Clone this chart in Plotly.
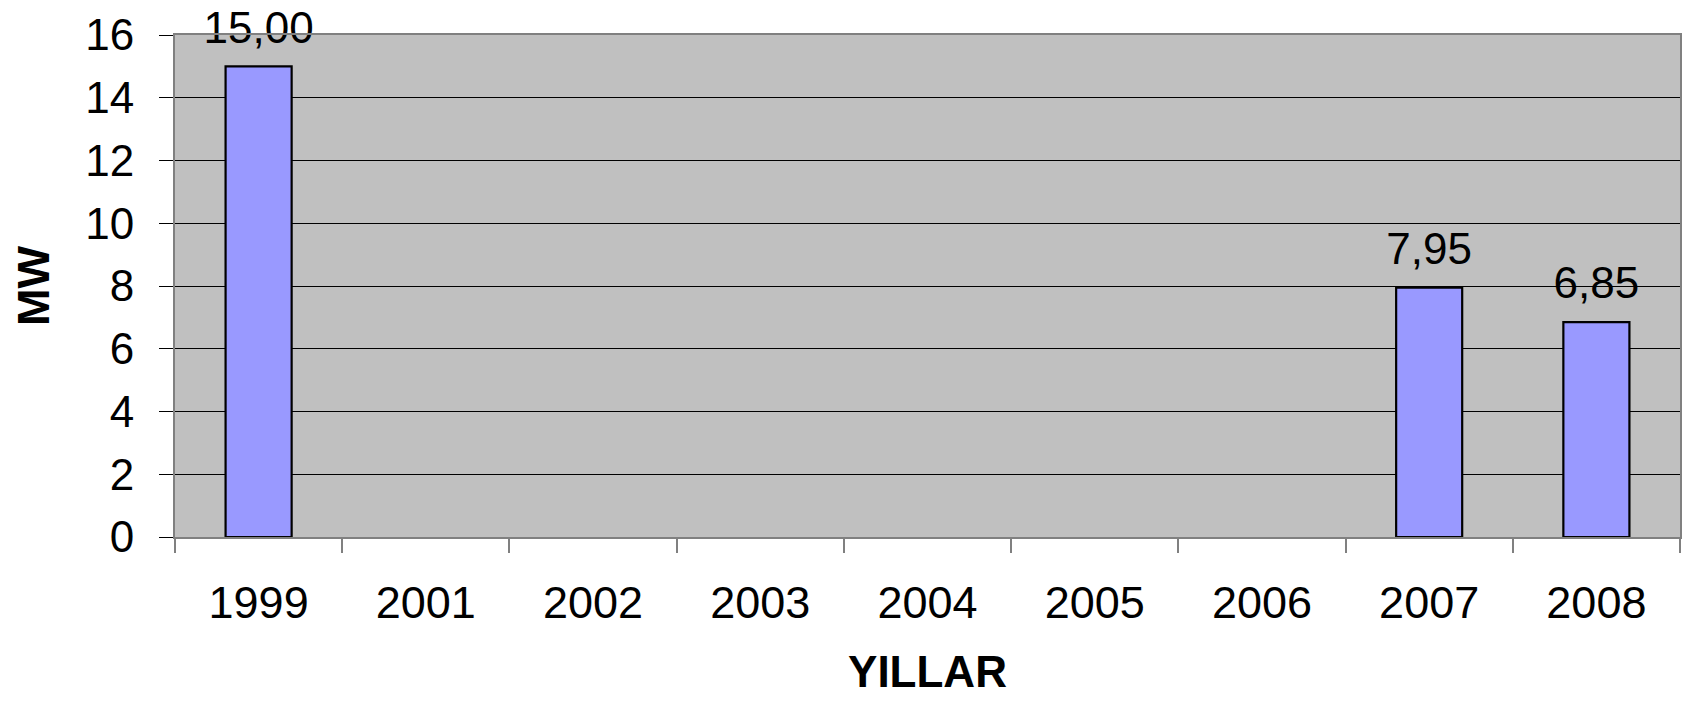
import plotly.graph_objects as go

years = ["1999", "2001", "2002", "2003", "2004", "2005", "2006", "2007", "2008"]
mw = [15.00, None, None, None, None, None, None, 7.95, 6.85]
y_ticks = [0, 2, 4, 6, 8, 10, 12, 14, 16]

FONT = "Liberation Sans, Arial, sans-serif"

fig = go.Figure()
fig.add_trace(
    go.Bar(
        x=years,
        y=mw,
        marker=dict(color="#9999FF", line=dict(color="black", width=2.2)),
        hoverinfo="x+y",
    )
)
# data labels placed above the bars
fig.add_trace(
    go.Scatter(
        x=years,
        y=mw,
        mode="markers+text",
        marker=dict(size=19, opacity=0),
        texttemplate="%{y:.2f}",
        textposition="top center",
        textfont=dict(family=FONT, size=44, color="black"),
        cliponaxis=False,
        hoverinfo="skip",
    )
)

# page body has an 8px default margin, so the figure is sized to fit inside it
fig.update_layout(
    width=1680,
    height=688,
    margin=dict(l=167, r=8, t=27, b=159, autoexpand=False),
    paper_bgcolor="white",
    plot_bgcolor="#C0C0C0",
    separators=",.",
    bargap=0.605,
    showlegend=False,
    font=dict(family=FONT, color="black"),
)

fig.update_xaxes(
    type="category",
    automargin=False,
    range=[-0.5, len(years) - 0.5],
    tickson="boundaries",
    ticks="outside",
    ticklen=14,
    tickcolor="#808080",
    tickwidth=1.5,
    ticklabelstandoff=25,
    tickfont=dict(family=FONT, size=45, color="black"),
    showline=True,
    linecolor="#808080",
    linewidth=2,
    mirror=True,
    showgrid=False,
    title=dict(text="<b>YILLAR</b>", font=dict(family=FONT, size=44, color="black"), standoff=43),
)

fig.update_yaxes(
    automargin=False,
    range=[0, 16],
    tickvals=y_ticks,
    ticks="outside",
    ticklen=14,
    tickcolor="black",
    tickwidth=1.2,
    ticklabelstandoff=16,
    tickfont=dict(family=FONT, size=44, color="black"),
    showline=True,
    linecolor="#808080",
    linewidth=2,
    mirror=True,
    showgrid=True,
    gridcolor="black",
    gridwidth=1.2,
    zeroline=False,
    title=dict(text="<b>MW</b>", font=dict(family=FONT, size=45, color="black"), standoff=40),
)

fig.write_html("out.html")
